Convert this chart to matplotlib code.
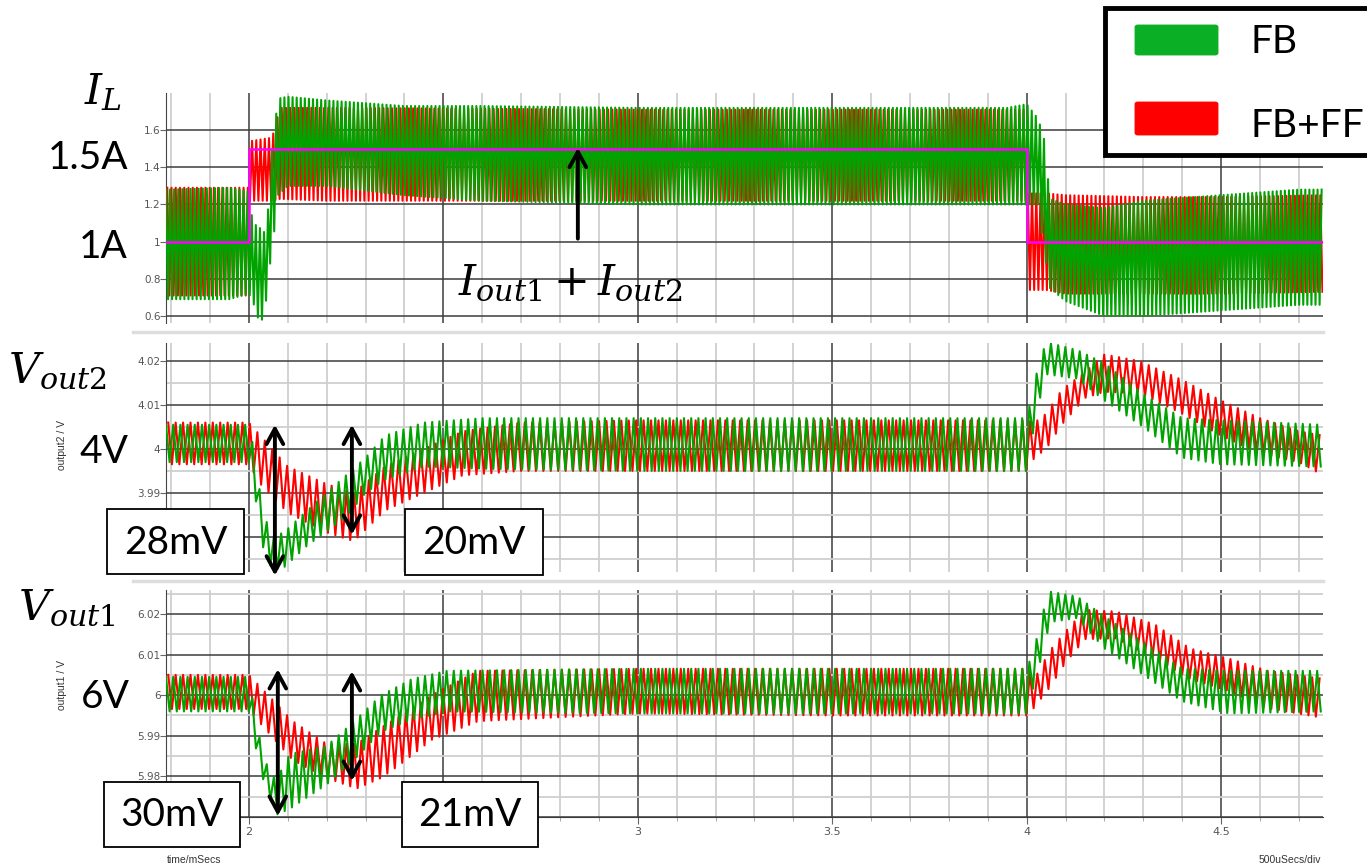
import numpy as np
import matplotlib
matplotlib.use('Agg')
import matplotlib.pyplot as plt
from matplotlib.lines import Line2D
from matplotlib.patches import Rectangle, FancyBboxPatch
from matplotlib.ticker import MultipleLocator

plt.rcParams['mathtext.fontset'] = 'dejavuserif'

W_PX, H_PX = 1367, 868

# time window of the plot (ms)
T_START, T_END = 1.787, 4.762
PER_FB = 0.0185     # switching period seen on the voltage traces (ms)
PER_FF = 0.0191
PER_IL_FB = 0.0105  # current traces look denser
PER_IL_FF = 0.0109

# ---------------- I_L (A) : ripple envelopes ----------------
t_il_fb = [1.787, 1.95, 2.0, 2.01, 2.025, 2.04, 2.05, 2.06, 2.075, 2.1, 2.2, 2.4,
           2.6, 3.0, 3.5, 3.95, 4.0, 4.03, 4.045, 4.06, 4.1, 4.2, 4.3, 4.5, 4.7, 4.762]
il_fb_hi = [1.28, 1.29, 1.27, 1.10, 1.08, 1.05, 1.18, 1.50, 1.77, 1.78, 1.76, 1.73,
            1.73, 1.72, 1.72, 1.72, 1.74, 1.66, 1.55, 1.23, 1.20, 1.18, 1.22, 1.25, 1.28, 1.28]
il_fb_lo = [0.69, 0.69, 0.72, 0.68, 0.58, 0.58, 0.82, 0.95, 1.25, 1.30, 1.30, 1.25,
            1.22, 1.20, 1.20, 1.20, 1.20, 1.20, 0.95, 0.75, 0.68, 0.60, 0.60, 0.63, 0.66, 0.66]

t_il_ff = [1.787, 2.0, 2.001, 2.06, 2.08, 2.2, 3.0, 3.5, 4.0, 4.001, 4.05, 4.1, 4.3, 4.5, 4.762]
il_ff_hi = [1.29, 1.29, 1.54, 1.56, 1.72, 1.72, 1.71, 1.71, 1.71, 1.26, 1.26, 1.25, 1.24, 1.24, 1.25]
il_ff_lo = [0.71, 0.71, 1.22, 1.22, 1.23, 1.22, 1.22, 1.22, 1.22, 0.74, 0.74, 0.72, 0.72, 0.72, 0.73]

# load reference Iout1 + Iout2
t_iout = [1.787, 2.0, 2.0, 4.0, 4.0, 4.762]
iout = [1.0, 1.0, 1.5, 1.5, 1.0, 1.0]

# ---------------- Vout2 (V) ----------------
t_v2_fb = [1.787, 2.0, 2.015, 2.035, 2.06, 2.09, 2.15, 2.25, 2.3, 2.35, 2.45, 2.6,
           3.0, 3.5, 4.0, 4.013, 4.03, 4.05, 4.13, 4.2, 4.3, 4.4, 4.5, 4.762]
v2_fb_hi = [4.0055, 4.0055, 3.999, 3.986, 3.980, 3.981, 3.986, 3.994, 3.998, 4.003, 4.006, 4.007,
            4.007, 4.007, 4.007, 4.012, 4.019, 4.0243, 4.0225, 4.0195, 4.0125, 4.007, 4.0065, 4.0055]
v2_fb_lo = [3.997, 3.997, 3.990, 3.978, 3.9725, 3.973, 3.978, 3.9845, 3.990, 3.993, 3.996, 3.9955,
            3.995, 3.995, 3.995, 4.002, 4.010, 4.017, 4.016, 4.011, 4.005, 3.998, 3.9965, 3.996]

t_v2_ff = [1.787, 2.0, 2.03, 2.1, 2.2, 2.27, 2.35, 2.45, 2.55, 2.7, 3.0, 3.5,
           4.0, 4.02, 4.05, 4.09, 4.15, 4.2, 4.29, 4.4, 4.5, 4.6, 4.7, 4.762]
v2_ff_hi = [4.006, 4.006, 4.003, 3.996, 3.992, 3.990, 3.996, 4.000, 4.004, 4.006, 4.0065, 4.0065,
            4.0065, 4.006, 4.008, 4.0134, 4.0175, 4.0215, 4.020, 4.0157, 4.011, 4.007, 4.004, 4.003]
v2_ff_lo = [3.9965, 3.9965, 3.992, 3.9855, 3.981, 3.979, 3.986, 3.990, 3.994, 3.995, 3.995, 3.995,
            3.995, 3.998, 4.000, 4.0055, 4.0116, 4.013, 4.0127, 4.008, 4.003, 3.999, 3.997, 3.994]

# ---------------- Vout1 (V) ----------------
t_v1_fb = [1.787, 2.0, 2.02, 2.04, 2.07, 2.105, 2.2, 2.27, 2.34, 2.42, 2.51, 3.0,
           3.5, 4.0, 4.02, 4.04, 4.06, 4.13, 4.2, 4.3, 4.4, 4.52, 4.762]
v1_fb_hi = [6.0045, 6.0045, 5.993, 5.984, 5.979, 5.9855, 5.9875, 5.9935, 6.000, 6.004, 6.006, 6.0065,
            6.0065, 6.0065, 6.0115, 6.020, 6.0255, 6.0243, 6.0194, 6.013, 6.0066, 6.006, 6.006]
v1_fb_lo = [5.996, 5.996, 5.986, 5.978, 5.9705, 5.972, 5.978, 5.984, 5.991, 5.994, 5.996, 5.9955,
            5.9955, 5.9955, 6.003, 6.010, 6.018, 6.019, 6.0115, 6.005, 5.9985, 5.9955, 5.996]

t_v1_ff = [1.787, 2.0, 2.03, 2.113, 2.2, 2.277, 2.34, 2.39, 2.47, 2.59, 3.0, 3.5,
           4.0, 4.02, 4.06, 4.1, 4.15, 4.23, 4.33, 4.42, 4.52, 4.62, 4.762]
v1_ff_hi = [6.005, 6.005, 6.002, 5.9936, 5.988, 5.988, 5.992, 5.995, 6.000, 6.006, 6.0065, 6.0065,
            6.0065, 6.004, 6.011, 6.0157, 6.021, 6.0206, 6.0174, 6.0115, 6.009, 6.006, 6.004]
v1_ff_lo = [5.9966, 5.9966, 5.993, 5.984, 5.9796, 5.977, 5.9796, 5.983, 5.989, 5.9936, 5.9955, 5.995,
            5.995, 5.997, 6.002, 6.008, 6.0138, 6.014, 6.009, 6.004, 6.001, 5.9968, 5.9944]

# y axis ranges / ticks (labels hidden under the mV boxes are left blank)
il_lim, il_ticks = (0.562, 1.80), [0.6, 0.8, 1.0, 1.2, 1.4, 1.6]
il_labels = ['0.6', '0.8', '1', '1.2', '1.4', '1.6']
v2_lim, v2_ticks = (3.972, 4.0241), [3.98, 3.99, 4.0, 4.01, 4.02]
v2_labels = ['', '3.99', '4', '4.01', '4.02']
v1_lim, v1_ticks = (5.970, 6.0259), [5.97, 5.98, 5.99, 6.0, 6.01, 6.02]
v1_labels = ['', '5.98', '5.99', '6', '6.01', '6.02']
x_ticks = [2, 2.5, 3, 3.5, 4, 4.5]
x_labels = ['2', '', '3', '3.5', '4', '4.5']

GREEN = '#00a300'
RED = '#ff0000'


def ripple(t_knots, hi, lo, period, phase=0.0):
    """zigzag between the upper and lower envelope, one corner per half period"""
    t = np.arange(T_START + phase, T_END, period / 2)
    up = np.interp(t, t_knots, hi)
    dn = np.interp(t, t_knots, lo)
    y = np.where(np.arange(len(t)) % 2 == 0, up, dn)
    return t, y


def fx(px):
    return px / W_PX


def fy(py):
    return 1 - py / H_PX


fig = plt.figure(figsize=(W_PX / 100, H_PX / 100), dpi=100)
L, R = 166, 1323
ax1 = fig.add_axes([fx(L), fy(323), fx(R - L), 230 / H_PX])
ax2 = fig.add_axes([fx(L), fy(572), fx(R - L), 229 / H_PX])
ax3 = fig.add_axes([fx(L), fy(817), fx(R - L), 227 / H_PX])

panels = [
    (ax1, il_lim, il_ticks, il_labels, None, (t_il_ff, il_ff_hi, il_ff_lo),
     (t_il_fb, il_fb_hi, il_fb_lo), PER_IL_FF, PER_IL_FB),
    (ax2, v2_lim, v2_ticks, v2_labels, 0.005, (t_v2_ff, v2_ff_hi, v2_ff_lo),
     (t_v2_fb, v2_fb_hi, v2_fb_lo), PER_FF, PER_FB),
    (ax3, v1_lim, v1_ticks, v1_labels, 0.005, (t_v1_ff, v1_ff_hi, v1_ff_lo),
     (t_v1_fb, v1_fb_hi, v1_fb_lo), PER_FF, PER_FB),
]

for ax, ylim, yt, ylab, ymin, ff, fb, per_ff, per_fb in panels:
    ax.set_xlim(T_START, T_END)
    ax.set_ylim(*ylim)
    ax.set_xticks(x_ticks)
    ax.xaxis.set_minor_locator(MultipleLocator(0.1))
    ax.set_yticks(yt)
    ax.set_yticklabels(ylab)
    if ymin:
        ax.yaxis.set_minor_locator(MultipleLocator(ymin))
    ax.grid(which='minor', color='#cfcfcf', lw=1.3, zorder=0)
    ax.grid(which='major', color='#3c3c3c', lw=1.1, zorder=0)
    ax.set_axisbelow(True)
    for s in ['top', 'right', 'bottom']:
        ax.spines[s].set_visible(False)
    ax.spines['left'].set_color('#444444')
    ax.tick_params(axis='y', which='major', length=4, width=0.8, color='#666666',
                   labelsize=7.5, labelcolor='#555555', pad=0)
    ax.tick_params(axis='y', which='minor', length=0)
    tr, yr = ripple(*ff, per_ff, phase=0.3 * per_ff)
    ax.plot(tr, yr, color=RED, lw=1.5, zorder=2)
    tg, yg = ripple(*fb, per_fb)
    ax.plot(tg, yg, color=GREEN, lw=1.5, zorder=3)

for ax in (ax1, ax2):
    ax.tick_params(axis='x', which='both', length=0, labelbottom=False)

ax3.spines['bottom'].set_visible(True)
ax3.spines['bottom'].set_color('#3c3c3c')
ax3.set_xticklabels(x_labels)
ax3.tick_params(axis='x', which='major', length=5, color='#666666', labelsize=8,
                labelcolor='#555555', pad=2)
ax3.tick_params(axis='x', which='minor', length=3, color='#999999')

# load step reference
ax1.plot(t_iout, iout, color='#ff00ff', lw=1.8, zorder=4)

# panel separators
for py in (332, 581):
    fig.add_artist(Line2D([fx(133), fx(R)], [fy(py), fy(py)], color='#dddddd', lw=2.5))

# axis texts
SMALL = dict(fontsize=7.5, color='#333333', family='Liberation Sans')
fig.text(fx(62), fy(445), 'output2 / V', rotation=90, ha='center', va='center', **SMALL)
fig.text(fx(62), fy(685), 'output1 / V', rotation=90, ha='center', va='center', **SMALL)
fig.text(fx(167), fy(860), 'time/mSecs', ha='left', va='center', **SMALL)
fig.text(fx(1321), fy(860), '500uSecs/div', ha='right', va='center', **SMALL)

# big labels
BIG = dict(family='Lato', color='black', fontsize=28)
fig.text(fx(128), fy(158), '1.5A', ha='right', va='center', **BIG)
fig.text(fx(128), fy(247), '1A', ha='right', va='center', **BIG)
fig.text(fx(128), fy(452), '4V', ha='right', va='center', **BIG)
fig.text(fx(130), fy(697), '6V', ha='right', va='center', **BIG)

MATH = dict(color='black', fontsize=31)
fig.text(fx(84), fy(92), r'$I_L$', ha='left', va='center', **MATH)
fig.text(fx(8), fy(370), r'$V_{out2}$', ha='left', va='center', **MATH)
fig.text(fx(18), fy(607), r'$V_{out1}$', ha='left', va='center', **MATH)
fig.text(fx(570), fy(282), r'$I_{out1}+I_{out2}$', ha='center', va='center', **MATH)

# arrows
ax1.annotate('', xy=(2.846, 1.505), xytext=(2.846, 1.016),
             arrowprops=dict(arrowstyle='->,head_length=0.55,head_width=0.3', lw=2.8,
                             color='black', shrinkA=0, shrinkB=0, mutation_scale=20),
             annotation_clip=False, zorder=6)
DBL = dict(arrowstyle='<->,head_length=0.55,head_width=0.3', lw=2.8, color='black',
           shrinkA=0, shrinkB=0, mutation_scale=20)
ax2.annotate('', xy=(2.067, 4.0055), xytext=(2.067, 3.9712), arrowprops=DBL,
             annotation_clip=False, zorder=6)
ax2.annotate('', xy=(2.265, 4.0055), xytext=(2.265, 3.9805), arrowprops=DBL,
             annotation_clip=False, zorder=6)
ax3.annotate('', xy=(2.0745, 6.0064), xytext=(2.0745, 5.9703), arrowprops=DBL,
             annotation_clip=False, zorder=6)
ax3.annotate('', xy=(2.265, 6.0059), xytext=(2.265, 5.9789), arrowprops=DBL,
             annotation_clip=False, zorder=6)

# value boxes
boxes = [(107, 509, 244, 574, '28mV'), (405, 509, 543, 575, '20mV'),
         (104, 782, 240, 847, '30mV'), (402, 782, 538, 847, '21mV')]
for x0, y0, x1, y1, lab in boxes:
    fig.add_artist(Rectangle((fx(x0), fy(y1)), fx(x1 - x0), (y1 - y0) / H_PX,
                             facecolor='white', edgecolor='black', lw=1.3, zorder=5))
    fig.text(fx((x0 + x1) / 2), fy((y0 + y1) / 2 + 1), lab, ha='center', va='center',
             zorder=6, **BIG)

# legend
fig.add_artist(Rectangle((fx(1105), fy(155)), fx(300), 147 / H_PX, facecolor='white',
                         edgecolor='black', lw=3.5, zorder=5))
for y0, y1, c in [(25, 55, '#0aaf26'), (102, 135, RED)]:
    fig.add_artist(FancyBboxPatch((fx(1138), fy(y1 - 2)), fx(77), (y1 - y0 - 4) / H_PX,
                                  boxstyle='round,pad=0.002', facecolor=c, edgecolor=c,
                                  lw=1, zorder=6))
fig.text(fx(1250), fy(42), 'FB', ha='left', va='center', zorder=7, **BIG)
fig.text(fx(1250), fy(126), 'FB+FF', ha='left', va='center', zorder=7, **BIG)

fig.savefig('out.png', dpi=100)
